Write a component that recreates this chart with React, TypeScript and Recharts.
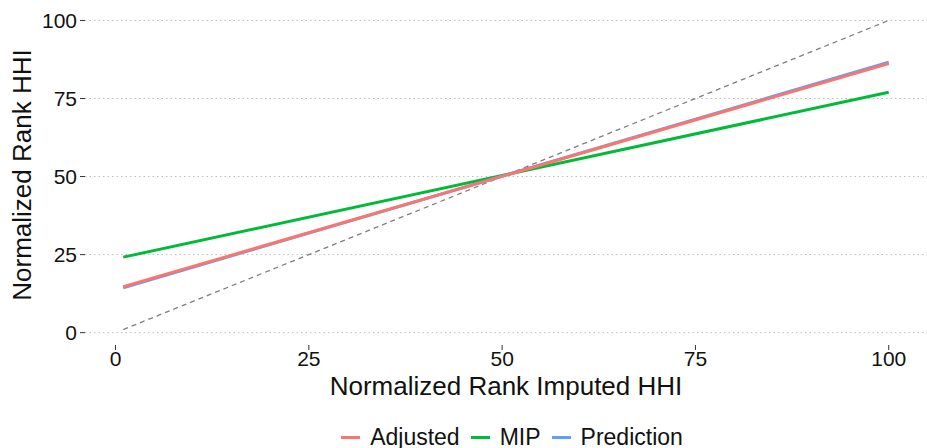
import { LineChart, Line, XAxis, YAxis, CartesianGrid, Legend } from "recharts";

const xs = [1, 100];
const adjusted = [14.7, 86.2];
const mip = [24.2, 77.0];
const prediction = [14.4, 86.6];
const identity = [1, 100];
const ticks = [0, 25, 50, 75, 100];
const DOMAIN: [number, number] = [-3.95, 104.95];

const SERIES = [
  { name: "Adjusted", color: "#F8766D" },
  { name: "MIP", color: "#00BA38" },
  { name: "Prediction", color: "#619CFF" },
];

const FONT = "'Liberation Sans', Arial, Helvetica, sans-serif";

const data = xs.map((x, i) => ({
  x,
  adjusted: adjusted[i],
  mip: mip[i],
  prediction: prediction[i],
  identity: identity[i],
}));

// grid only at the y ticks (no lines on the plot border)
function gridRows({ offset }: any) {
  const span = DOMAIN[1] - DOMAIN[0];
  return ticks.map((t) => offset.top + (offset.height * (DOMAIN[1] - t)) / span);
}

function LegendContent() {
  return (
    <div
      style={{
        display: "flex",
        justifyContent: "center",
        alignItems: "center",
        height: 28,
        paddingTop: 6,
        paddingLeft: 97,
        boxSizing: "border-box",
        fontFamily: FONT,
        fontSize: 23,
        color: "#111",
      }}
    >
      {SERIES.map((s, i) => (
        <div
          key={s.name}
          style={{ display: "flex", alignItems: "center", marginLeft: i === 0 ? 0 : 11 }}
        >
          <span
            style={{
              display: "inline-block",
              width: 19,
              height: 3,
              background: s.color,
              marginRight: 10,
            }}
          />
          {s.name}
        </div>
      ))}
    </div>
  );
}

export default function App() {
  return (
    <div style={{ position: "absolute", left: 0, top: 0, background: "#fff" }}>
      <LineChart
        width={927}
        height={448}
        data={data}
        margin={{ top: 5, right: 0, bottom: 0, left: 0 }}
      >
        <CartesianGrid
          vertical={false}
          stroke="#BDBDBD"
          strokeDasharray="1.5 3"
          horizontalCoordinatesGenerator={gridRows}
        />
        <XAxis
          dataKey="x"
          type="number"
          domain={DOMAIN}
          ticks={ticks}
          axisLine={false}
          tickLine={{ stroke: "#333" }}
          tickSize={5}
          tickMargin={1}
          height={75}
          tick={{ fill: "#111", fontSize: 21, fontFamily: FONT }}
          label={{
            value: "Normalized Rank Imputed HHI",
            position: "insideBottom",
            offset: 25,
            style: { fill: "#111", fontSize: 26, fontFamily: FONT },
          }}
        />
        <YAxis
          type="number"
          domain={DOMAIN}
          ticks={ticks}
          axisLine={false}
          tickLine={{ stroke: "#333" }}
          tickSize={5}
          tickMargin={3}
          width={85}
          tick={{ fill: "#111", fontSize: 21, fontFamily: FONT }}
          label={{
            value: "Normalized Rank HHI",
            angle: -90,
            position: "insideLeft",
            offset: 22,
            style: { fill: "#111", fontSize: 26, fontFamily: FONT, textAnchor: "middle" },
          }}
        />
        <Legend verticalAlign="bottom" height={28} content={<LegendContent />} />
        <Line
          dataKey="identity"
          stroke="#7F7F7F"
          strokeWidth={1.3}
          strokeDasharray="5 4"
          dot={false}
          legendType="none"
          isAnimationActive={false}
        />
        <Line dataKey="mip" name="MIP" stroke="#00BA38" strokeWidth={3} dot={false} isAnimationActive={false} />
        <Line dataKey="prediction" name="Prediction" stroke="#619CFF" strokeWidth={3} dot={false} isAnimationActive={false} />
        <Line dataKey="adjusted" name="Adjusted" stroke="#F8766D" strokeWidth={3} dot={false} isAnimationActive={false} />
      </LineChart>
    </div>
  );
}
